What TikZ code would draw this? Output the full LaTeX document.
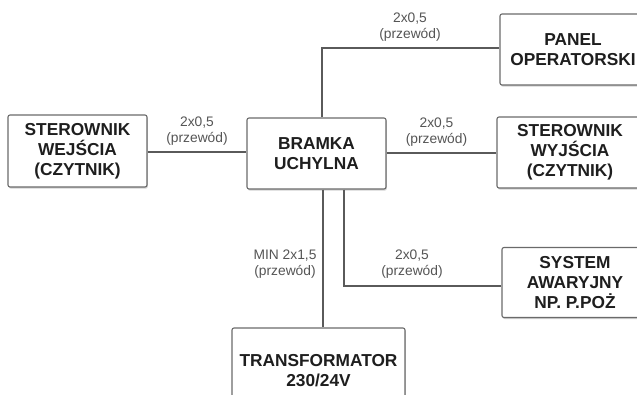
\documentclass[tikz,border=0pt]{standalone}
\usepackage{fontspec}
\setmainfont{Liberation Sans}
\usetikzlibrary{shadows}
\definecolor{boxline}{HTML}{6A6A6A}
\definecolor{wire}{HTML}{5A5A5A}
\definecolor{boxtext}{HTML}{1E1E1E}
\definecolor{lbltext}{HTML}{555555}
\tikzset{
  blockbox/.style={draw=boxline, line width=1.1pt, rounded corners=2pt, fill=white,
    drop shadow={shadow xshift=0.8pt, shadow yshift=-1.6pt, fill=black!35},
    text=boxtext, font=\bfseries\fontsize{17.3}{20}\selectfont, align=center, inner sep=0pt},
  wirelabel/.style={text=lbltext, font=\fontsize{13.8}{15.5}\selectfont, align=center, inner sep=0pt},
  conn/.style={draw=wire, line width=1.2pt}
}
\begin{document}
\begin{tikzpicture}[x=1pt,y=-1pt]
\useasboundingbox (0,0) rectangle (637,394);
\clip (0,0) rectangle (637,394);
\fill[white] (0,0) rectangle (637,394);
% boxes
\node[blockbox, minimum width=139pt, minimum height=72pt] (swe) at (77.5,151) {STEROWNIK\\WEJŚCIA\\(CZYTNIK)};
\node[blockbox, minimum width=139pt, minimum height=71pt] (bramka) at (316.5,153.5) {BRAMKA\\UCHYLNA};
\node[blockbox, minimum width=146pt, minimum height=71pt] (panel) at (573,49.5) {PANEL\\OPERATORSKI};
\node[blockbox, minimum width=146pt, minimum height=71pt] (swy) at (570,152.5) {STEROWNIK\\WYJŚCIA\\(CZYTNIK)};
\node[blockbox, minimum width=146pt, minimum height=70pt] (sys) at (575,282.5) {SYSTEM\\AWARYJNY\\NP. P.POŻ};
\node[blockbox, minimum width=173pt, minimum height=86pt] (trans) at (318.5,371) {TRANSFORMATOR\\230/24V};
% connector helpers
\coordinate (h1) at (0,152);
\coordinate (h3) at (0,153);
\coordinate (vp) at (322,48);
\coordinate (vt) at (323,0);
\coordinate (vs) at (344,286);
% connectors
\draw[conn] (h1 -| swe.east) -- (h1 -| bramka.west);
\draw[conn] (vp |- bramka.north) -- (vp) -- (vp -| panel.west);
\draw[conn] (h3 -| bramka.east) -- (h3 -| swy.west);
\draw[conn] (vt |- bramka.south) -- (vt |- trans.north);
\draw[conn] (vs |- bramka.south) -- (vs) -- (vs -| sys.west);
% labels
\node[wirelabel] (l1) at (197,131) {2x0,5\\(przewód)};
\node[wirelabel] (l2) at (410,27) {2x0,5\\(przewód)};
\node[wirelabel] (l3) at (436.5,132) {2x0,5\\(przewód)};
\node[wirelabel] (l4) at (285,264) {MIN 2x1,5\\(przewód)};
\node[wirelabel] (l5) at (412,264) {2x0,5\\(przewód)};
\end{tikzpicture}
\end{document}
